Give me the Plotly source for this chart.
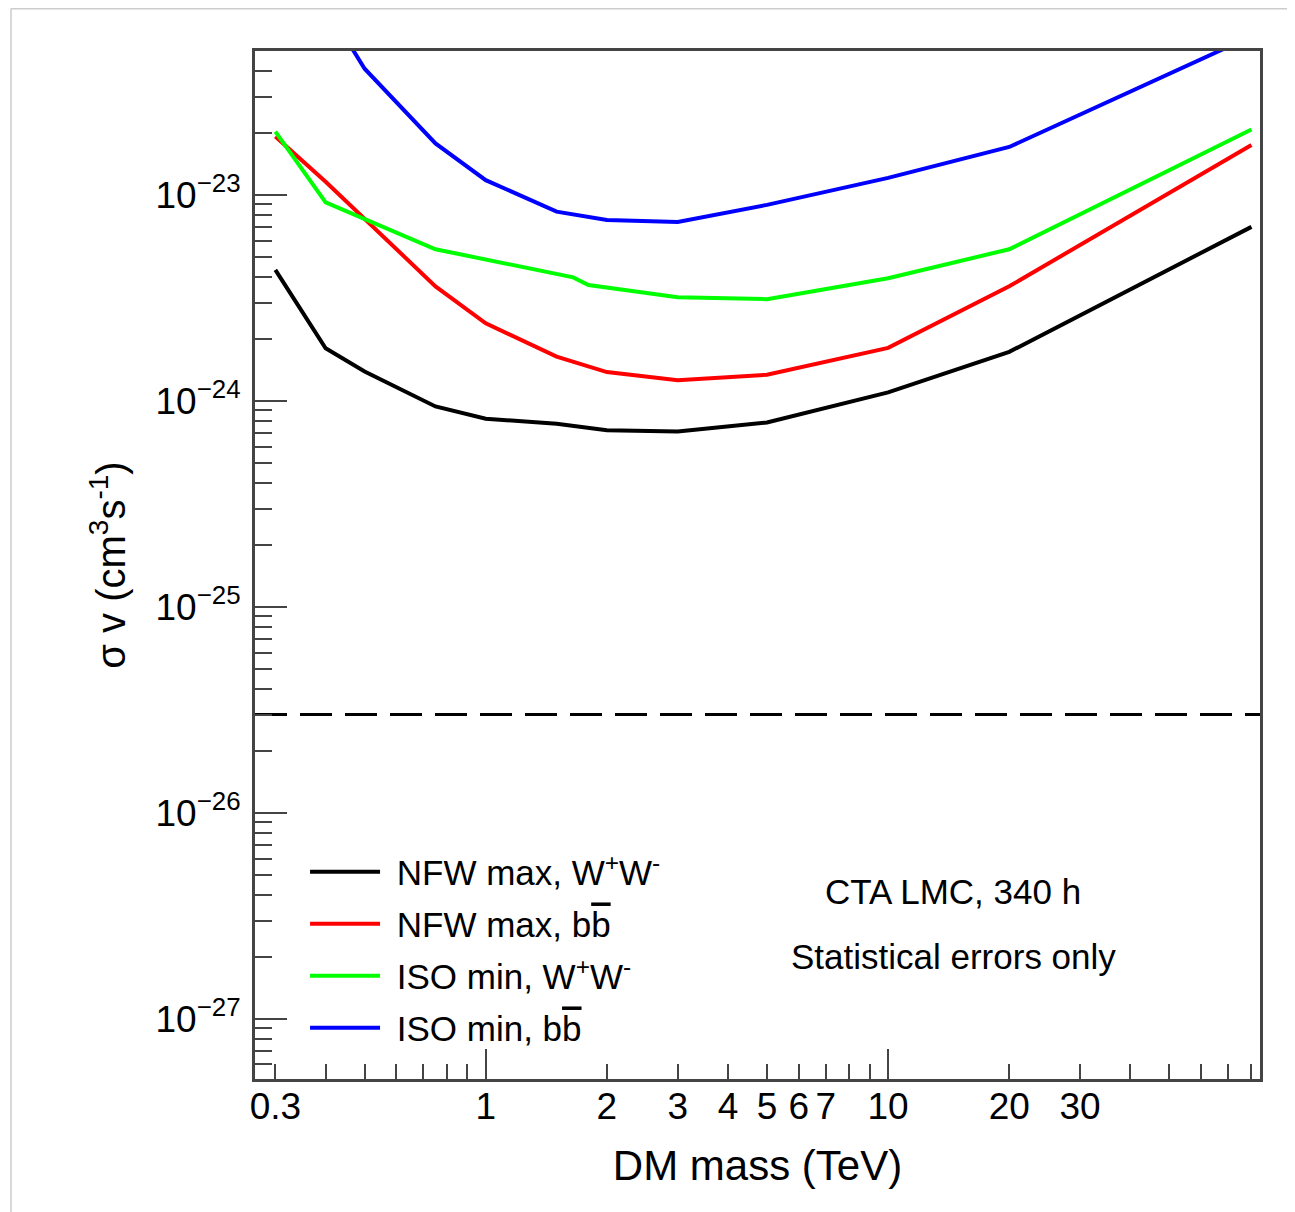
import math
import plotly.graph_objects as go

# ---------------- data ----------------
mass_nfw_ww = [0.3, 0.4, 0.5, 0.75, 1, 1.5, 2, 3, 5, 10, 20, 80]
sv_nfw_ww = [4.33e-24, 1.80e-24, 1.39e-24, 9.4e-25, 8.2e-25, 7.75e-25, 7.2e-25, 7.1e-25,
             7.85e-25, 1.10e-24, 1.73e-24, 7.0e-24]

mass_nfw_bb = [0.3, 0.4, 0.75, 1, 1.5, 2, 3, 5, 10, 20, 80]
sv_nfw_bb = [1.92e-23, 1.16e-23, 3.6e-24, 2.38e-24, 1.64e-24, 1.38e-24, 1.26e-24, 1.34e-24,
             1.81e-24, 3.6e-24, 1.75e-23]

mass_iso_ww = [0.3, 0.4, 0.75, 1.65, 1.8, 3, 5, 10, 20, 80]
sv_iso_ww = [2.03e-23, 9.2e-24, 5.45e-24, 3.98e-24, 3.65e-24, 3.19e-24, 3.12e-24, 3.94e-24,
             5.45e-24, 2.08e-23]

mass_iso_bb = [0.3, 0.4, 0.5, 0.75, 1, 1.5, 2, 3, 5, 10, 20, 80]
sv_iso_bb = [1.6e-22, 8.3e-23, 4.1e-23, 1.78e-23, 1.18e-23, 8.3e-24, 7.55e-24, 7.4e-24,
             8.95e-24, 1.21e-23, 1.71e-23, 5.9e-23]

thermal_relic = 3e-26

x_range = [0.267, 84]
y_range = [5.1e-28, 5.0e-23]

x_label_vals = [0.3, 1, 2, 3, 4, 5, 6, 7, 10, 20, 30]
x_label_text = ["0.3", "1", "2", "3", "4", "5", "6", "7", "10", "20", "30"]
x_major_vals = [1, 10]
x_minor_vals = [0.4, 0.5, 0.6, 0.7, 0.8, 0.9, 8, 9, 40, 50, 60, 70, 80]

y_decades = [-27, -26, -25, -24, -23]
y_label_vals = [10.0 ** d for d in y_decades]
y_label_text = ["10<sup>\u221227</sup>", "10<sup>\u221226</sup>", "10<sup>\u221225</sup>",
                "10<sup>\u221224</sup>", "10<sup>\u221223</sup>"]
y_minor_vals = [m * 10.0 ** d for d in [-28] + y_decades for m in range(2, 10)]

series = [
    ("\u2004NFW max, W<sup>+</sup>W<sup>-</sup>", mass_nfw_ww, sv_nfw_ww, "#000000"),
    ("\u2004NFW max, b<span style=\"text-decoration:overline\">b</span>", mass_nfw_bb, sv_nfw_bb, "#ff0000"),
    ("\u2004ISO min, W<sup>+</sup>W<sup>-</sup>", mass_iso_ww, sv_iso_ww, "#00ff00"),
    ("\u2004ISO min, b<span style=\"text-decoration:overline\">b</span>", mass_iso_bb, sv_iso_bb, "#0000ff"),
]

FONT = "Liberation Sans, Arial, Helvetica, sans-serif"
AX = "#444444"

fig = go.Figure()

fig.add_trace(go.Scatter(x=x_range, y=[thermal_relic, thermal_relic], mode="lines",
                         line=dict(color="#000000", width=3, dash="32px,13px"),
                         showlegend=False, hoverinfo="skip"))

for i, (name, xs, ys, col) in enumerate(series):
    fig.add_trace(go.Scatter(x=xs, y=ys, mode="lines", name=name, legendgroup=f"g{i}",
                             line=dict(color=col, width=4)))

# invisible trace to carry the overlay axis holding the long decade ticks
fig.add_trace(go.Scatter(x=[x_major_vals[0]], y=[thermal_relic], xaxis="x2", mode="markers",
                         marker=dict(opacity=0), showlegend=False, hoverinfo="skip"))

fig.update_layout(
    width=1287, height=1204,
    margin=dict(l=247, r=35, t=43, b=133),
    paper_bgcolor="white", plot_bgcolor="white",
    font=dict(family=FONT, color="black", size=37),
    xaxis=dict(
        type="log", range=[math.log10(x_range[0]), math.log10(x_range[1])],
        tickmode="array", tickvals=x_label_vals, ticktext=x_label_text,
        ticks="inside", ticklen=15, tickwidth=2, tickcolor=AX,
        minor=dict(tickmode="array", tickvals=x_minor_vals, ticks="inside", ticklen=15,
                   tickwidth=2, tickcolor=AX, showgrid=False),
        showline=True, linecolor=AX, linewidth=3, mirror=True,
        showgrid=False, zeroline=False,
        tickfont=dict(size=37), ticklabelstandoff=-7,
        title=dict(text="DM mass (TeV)", font=dict(size=42), standoff=25),
    ),
    xaxis2=dict(
        type="log", overlaying="x", matches="x", anchor="y", side="bottom",
        tickmode="array", tickvals=x_major_vals, ticks="inside", ticklen=30, tickwidth=2,
        tickcolor=AX, showticklabels=False, showline=False, showgrid=False, zeroline=False,
    ),
    yaxis=dict(
        type="log", range=[math.log10(y_range[0]), math.log10(y_range[1])],
        tickmode="array", tickvals=y_label_vals, ticktext=y_label_text,
        ticks="inside", ticklen=32, tickwidth=2, tickcolor=AX,
        minor=dict(tickmode="array", tickvals=y_minor_vals, ticks="inside", ticklen=17,
                   tickwidth=2, tickcolor=AX, showgrid=False),
        showline=True, linecolor=AX, linewidth=3, mirror=True,
        showgrid=False, zeroline=False,
        tickfont=dict(size=37), ticklabelstandoff=4,
        title=dict(text="\u03c3 v (cm<sup>3</sup>s<sup>-1</sup>)", font=dict(size=40), standoff=18),
    ),
    legend=dict(x=0.0498, y=0.230, xanchor="left", yanchor="top", bgcolor="rgba(0,0,0,0)",
                font=dict(size=35), tracegroupgap=3.5, itemwidth=70),
    showlegend=True,
)

fig.add_annotation(text="CTA LMC, 340 h", xref="paper", yref="paper", x=0.695, y=0.182,
                   xanchor="center", yanchor="middle", showarrow=False, font=dict(size=35))
fig.add_annotation(text="Statistical errors only", xref="paper", yref="paper", x=0.695, y=0.119,
                   xanchor="center", yanchor="middle", showarrow=False, font=dict(size=35))

# light outer picture frame
fig.add_shape(type="line", xref="paper", yref="paper", x0=-0.2428, x1=1.04, y0=1.0411, y1=1.0411,
              line=dict(color="#cccccc", width=1.5))
fig.add_shape(type="line", xref="paper", yref="paper", x0=-0.2428, x1=-0.2428, y0=1.0411, y1=-0.14,
              line=dict(color="#cccccc", width=1.5))

fig.write_html("out.html")
